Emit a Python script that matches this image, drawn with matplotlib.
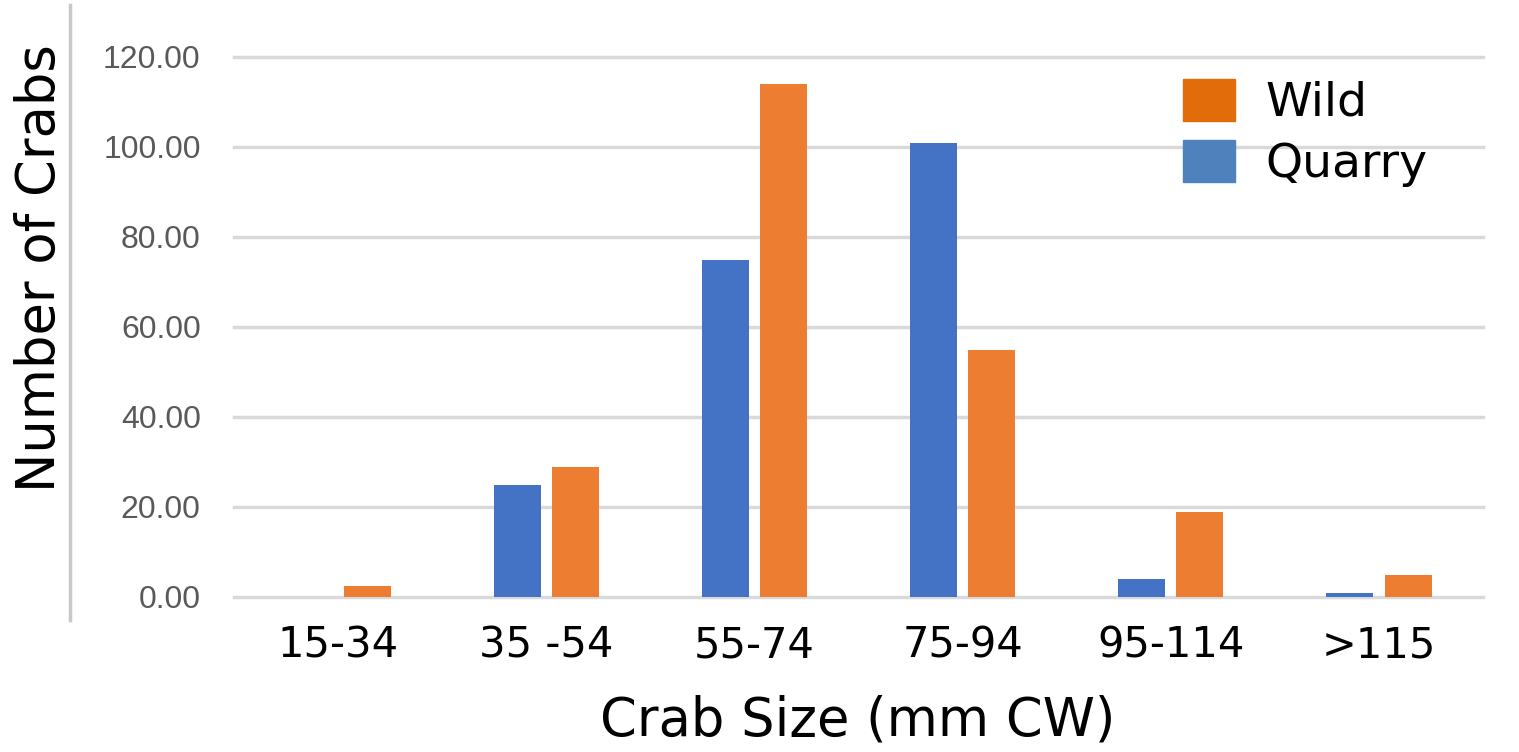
import matplotlib
matplotlib.use("Agg")
import matplotlib.pyplot as plt
from matplotlib.patches import Patch
from matplotlib.lines import Line2D
import numpy as np

# data
categories = ["15-34", "35 -54", "55-74", "75-94", "95-114", ">115"]
quarry = [0, 25, 75, 101, 4, 1]
wild = [2.4, 29, 114, 55, 19, 5]
y_ticks = [0, 20, 40, 60, 80, 100, 120]

bar_blue = "#4472C4"
bar_orange = "#ED7D31"
legend_orange = "#E36C0A"
legend_blue = "#4F81BD"

fig = plt.figure(figsize=(15.19, 7.52), dpi=100)
ax = fig.add_axes([234 / 1519, 1 - 597 / 752, 1249 / 1519, 540 / 752])

x = np.arange(len(categories))
w = 0.226
off = 0.14
ax.bar(x - off, quarry, width=w, color=bar_blue, zorder=3)
ax.bar(x + off, wild, width=w, color=bar_orange, zorder=3)

ax.set_xlim(-0.5, len(categories) - 0.5)
ax.set_ylim(0, 120)
ax.set_yticks(y_ticks)
ax.set_yticklabels([f"{v:.2f}" for v in y_ticks], family="Liberation Sans",
                   fontsize=23, color="#595959")
ax.set_xticks(x)
ax.set_xticklabels(categories, fontsize=30, family="DejaVu Sans")
ax.tick_params(axis="both", length=0)
ax.tick_params(axis="y", pad=24)
ax.tick_params(axis="x", pad=20)

for s in ax.spines.values():
    s.set_visible(False)
ax.yaxis.grid(True, color="#D9D9D9", linewidth=2.5, zorder=0)
for gl in ax.get_ygridlines():
    gl.set_clip_on(False)

ax.set_ylabel("Number of Crabs", fontsize=38, va="center")
ax.yaxis.set_label_coords(-(234 - 40) / 1249, (597 - 268) / 540)
ax.set_xlabel("Crab Size (mm CW)", fontsize=38, va="center")
ax.xaxis.set_label_coords((858 - 234) / 1249, -(720 - 597) / 540)

# thin grey frame line on the left
fig.add_artist(Line2D([70 / 1519, 70 / 1519], [1 - 5 / 752, 1 - 620 / 752],
                      color="#C8C8C8", linewidth=2.5, transform=fig.transFigure))

handles = [Patch(color=legend_orange), Patch(color=legend_blue)]
fig.legend(handles, ["Wild", "Quarry"], loc="upper left",
           bbox_to_anchor=(1159 / 1519, 1 - 55 / 752), frameon=False,
           fontsize=34, handlelength=1.1, handleheight=1.0,
           handletextpad=0.65, labelspacing=0.3, borderpad=0)

fig.savefig("out.png", dpi=100)
